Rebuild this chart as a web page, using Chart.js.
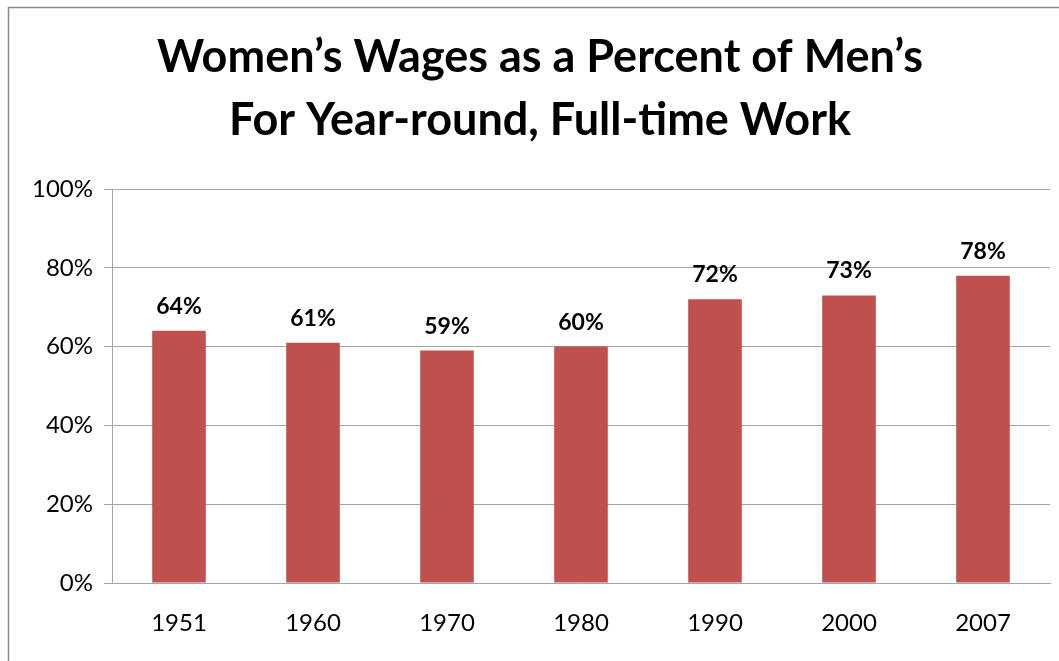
<!DOCTYPE html>
<html>
<head>
<meta charset="utf-8">
<script src="https://cdn.jsdelivr.net/npm/chart.js@4"></script>
<style>
  html, body { margin: 0; padding: 0; background: #fff; }
  #wrap { width: 1059px; height: 661px; position: relative; }
</style>
</head>
<body>
<div id="wrap"><canvas id="myChart" width="1059" height="661"></canvas></div>
<script>
// dados do grafico
const anos = ['1951', '1960', '1970', '1980', '1990', '2000', '2007'];
const percentuais = [64, 61, 59, 60, 72, 73, 78];
const tituloLinhas = ['Women\u2019s Wages as a Percent of Men\u2019s', 'For Year-round, Full-time Work'];
const ticksY = [0, 20, 40, 60, 80, 100];

const fonte = 'Lato, "Open Sans", sans-serif';

// moldura + titulo desenhados no canvas
const molduraTitulo = {
  id: 'molduraTitulo',
  beforeDraw(chart) {
    const c = chart.ctx;
    c.save();
    c.strokeStyle = '#8c8c8c';
    c.lineWidth = 1.5;
    c.beginPath();
    c.moveTo(8.5, 661);
    c.lineTo(8.5, 7.5);
    c.lineTo(1059, 7.5);
    c.stroke();
    c.fillStyle = '#000';
    c.font = 'bold 45px ' + fonte;
    c.textAlign = 'center';
    c.textBaseline = 'alphabetic';
    c.fillText(tituloLinhas[0], 540, 72);
    c.fillText(tituloLinhas[1], 540, 135);
    c.restore();
  }
};

// rotulos acima das barras
const rotulos = {
  id: 'rotulos',
  afterDatasetsDraw(chart) {
    const c = chart.ctx;
    const meta = chart.getDatasetMeta(0);
    c.save();
    c.fillStyle = '#000';
    c.font = 'bold 23px ' + fonte;
    c.textAlign = 'center';
    c.textBaseline = 'alphabetic';
    meta.data.forEach(function (bar, i) {
      c.fillText(percentuais[i] + '%', bar.x, bar.y - 17);
    });
    c.restore();
  }
};

const ctx = document.getElementById('myChart').getContext('2d');
const myChart = new Chart(ctx, {
  type: 'bar',
  data: {
    labels: anos,
    datasets: [{
      data: percentuais,
      backgroundColor: '#C0504D',
      borderWidth: 0,
      barPercentage: 0.4,
      categoryPercentage: 1
    }]
  },
  options: {
    responsive: false,
    animation: false,
    layout: { padding: { top: 189, right: 9, bottom: 0, left: 0 } },
    plugins: {
      legend: { display: false },
      title: { display: false },
      tooltip: { enabled: false }
    },
    scales: {
      x: {
        grid: { display: false, drawTicks: false },
        border: { display: true, color: '#a6a6a6', width: 1 },
        ticks: { color: '#000', font: { family: fonte, size: 24 }, padding: 26 },
        afterFit(scale) { scale.height = 78; }
      },
      y: {
        min: 0,
        max: 100,
        afterBuildTicks(scale) { scale.ticks = ticksY.map(v => ({ value: v })); },
        grid: { color: '#a6a6a6', tickLength: 8, lineWidth: 1 },
        border: { display: true, color: '#a6a6a6', width: 1 },
        ticks: {
          color: '#000',
          font: { family: fonte, size: 24 },
          padding: 11,
          callback: v => v + '%'
        },
        afterFit(scale) { scale.width = 112; }
      }
    }
  },
  plugins: [molduraTitulo, rotulos]
});
</script>
</body>
</html>
